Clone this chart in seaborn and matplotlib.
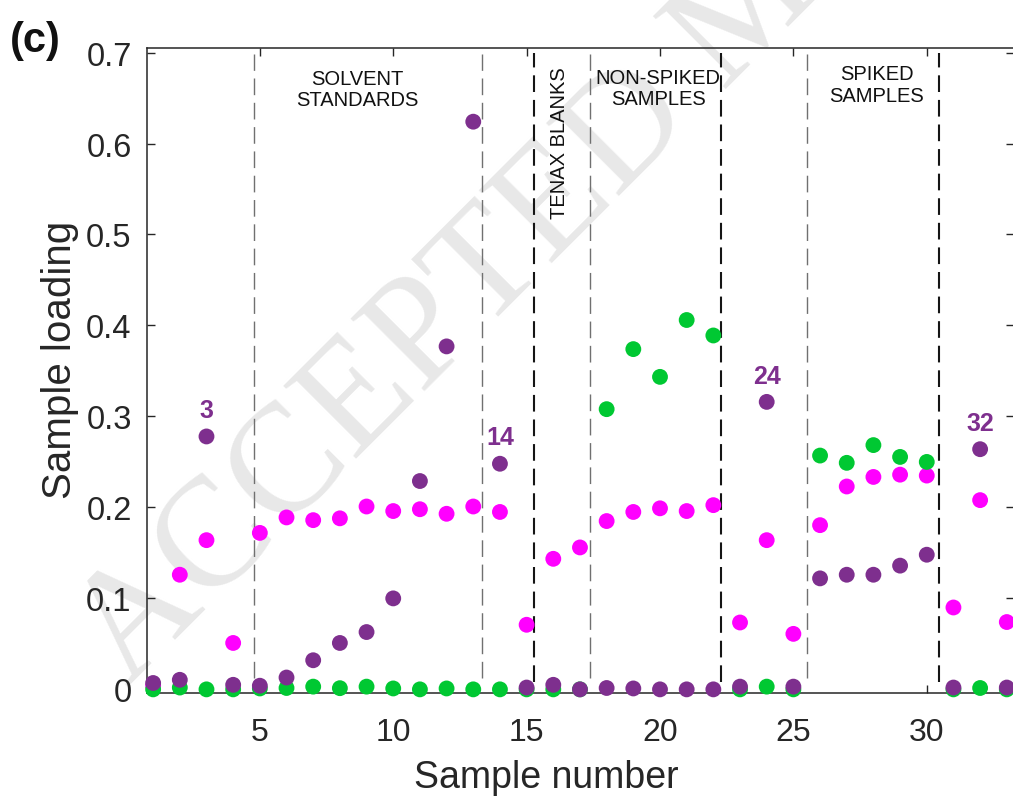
import numpy as np
import pandas as pd
import matplotlib
matplotlib.use("Agg")
import matplotlib.pyplot as plt
import seaborn as sns

# ---- data -------------------------------------------------------------
samples = list(range(1, 34))

loading_f1 = [0.007, 0.0105, 0.278, 0.005, 0.004, 0.013, 0.032, 0.051, 0.063, 0.100,
              0.229, 0.377, 0.624, 0.248, 0.002, 0.005, 0.000, 0.0015, 0.001, 0.000,
              0.000, 0.000, 0.003, 0.316, 0.003, 0.122, 0.126, 0.126, 0.136, 0.148,
              0.002, 0.264, 0.002]
loading_f2 = [0.004, 0.126, 0.164, 0.051, 0.172, 0.189, 0.186, 0.188, 0.201, 0.196,
              0.198, 0.193, 0.201, 0.195, 0.071, 0.1435, 0.156, 0.185, 0.195, 0.199,
              0.196, 0.2025, 0.0735, 0.164, 0.061, 0.1805, 0.223, 0.2335, 0.236, 0.235,
              0.090, 0.208, 0.074]
loading_f3 = [0.000, 0.002, 0.000, 0.000, 0.001, 0.0015, 0.003, 0.0013, 0.003, 0.001,
              0.000, 0.001, 0.000, 0.000, 0.000, 0.000, 0.000, 0.308, 0.374, 0.3435,
              0.406, 0.389, 0.000, 0.003, 0.000, 0.257, 0.249, 0.2685, 0.2555, 0.250,
              0.000, 0.0015, 0.000]

# group boundaries (light dashed / heavy dashed)
light_bounds = [4.78, 13.32, 17.38, 25.51]
heavy_bounds = [15.29, 22.29, 30.46]

# group captions: (text, x, y, rotation)
group_labels = [
    ("SOLVENT\nSTANDARDS", 8.64, 0.660, 0),
    ("TENAX BLANKS", 16.24, 0.601, 90),
    ("NON-SPIKED\nSAMPLES", 19.93, 0.661, 0),
    ("SPIKED\nSAMPLES", 28.13, 0.665, 0),
]

# outlying samples flagged on the first factor
flagged = [3, 14, 24, 32]

y_ticks = [0, 0.1, 0.2, 0.3, 0.4, 0.5, 0.6, 0.7]
y_ticklabels = ["0", "0.1", "0.2", "0.3", "0.4", "0.5", "0.6", "0.7"]
x_ticks = [5, 10, 15, 20, 25, 30]

# ---- styling ------------------------------------------------------------
sns.set_theme(style="white")
plt.rcParams["font.family"] = ["Liberation Sans", "DejaVu Sans"]

c_f1 = "#7E2F8E"
c_f2 = "#FF00FF"
c_f3 = "#00C832"
axis_col = "#262626"

df = pd.concat([
    pd.DataFrame({"sample": samples, "loading": loading_f2, "factor": "F2"}),
    pd.DataFrame({"sample": samples, "loading": loading_f3, "factor": "F3"}),
    pd.DataFrame({"sample": samples, "loading": loading_f1, "factor": "F1"}),
], ignore_index=True)

fig = plt.figure(figsize=(10.13, 8.03), dpi=100)
ax = fig.add_axes([147 / 1013, 1 - 694 / 803, 867 / 1013, 645 / 803])
ax.patch.set_alpha(0)

# faint diagonal watermark behind the axes
fig.text(128 / 1013, 1 - 688 / 803, "ACCEPTED MANUSCRIPT", rotation=45,
         rotation_mode="anchor", ha="left", va="baseline",
         fontsize=112, family="Liberation Serif", color="#e8e8e8", zorder=-5)

# group separators
for xb in light_bounds:
    ax.vlines(xb, 0.012, 0.698, colors="#707070", linewidth=1.0,
              linestyles=(0, (12, 5.5)), zorder=1)
for xb in heavy_bounds:
    ax.vlines(xb, 0.008, 0.699, colors="#151515", linewidth=1.5,
              linestyles=(0, (8, 3.8)), zorder=1)

sns.scatterplot(data=df, x="sample", y="loading", hue="factor",
                palette={"F1": c_f1, "F2": c_f2, "F3": c_f3},
                s=130, linewidth=0, alpha=1, legend=False, ax=ax,
                clip_on=False, zorder=3)

for txt, x, y, rot in group_labels:
    ax.text(x, y, txt, rotation=rot, ha="center", va="center",
            multialignment="center", fontsize=14.5, color="#111111",
            linespacing=1.15, zorder=2)

for n in flagged:
    ax.text(n, loading_f1[n - 1] + 0.029, str(n), ha="center", va="center",
            fontsize=18, fontweight="bold", color=c_f1, zorder=4)

ax.set_xlim(0.77, 33.27)
ax.set_ylim(-0.004, 0.705)
ax.set_xticks(x_ticks)
ax.set_yticks(y_ticks)
ax.set_yticklabels(y_ticklabels)

ax.tick_params(axis="both", which="both", direction="in", length=6,
               width=1.0, color=axis_col, labelcolor=axis_col,
               top=True, right=True, bottom=True, left=True)
ax.tick_params(axis="y", labelsize=23.5, pad=11)
ax.tick_params(axis="x", labelsize=23, pad=17)
for sp in ax.spines.values():
    sp.set_color(axis_col)
    sp.set_linewidth(1.1)
    sp.set_visible(True)

ax.set_xlabel("Sample number", fontsize=27, color=axis_col)
ax.set_ylabel("Sample loading", fontsize=29, color=axis_col)
ax.xaxis.set_label_coords(0.461, -0.131)
ax.yaxis.set_label_coords(-0.100, 0.518)
ax.xaxis.label.set_va("center")
ax.yaxis.label.set_va("center")
ax.grid(False)

fig.text(10 / 1013, 1 - 41 / 803, "(c)", fontsize=30, fontweight="bold",
         ha="left", va="center", color="#111111")

fig.savefig("out.png", dpi=100)
